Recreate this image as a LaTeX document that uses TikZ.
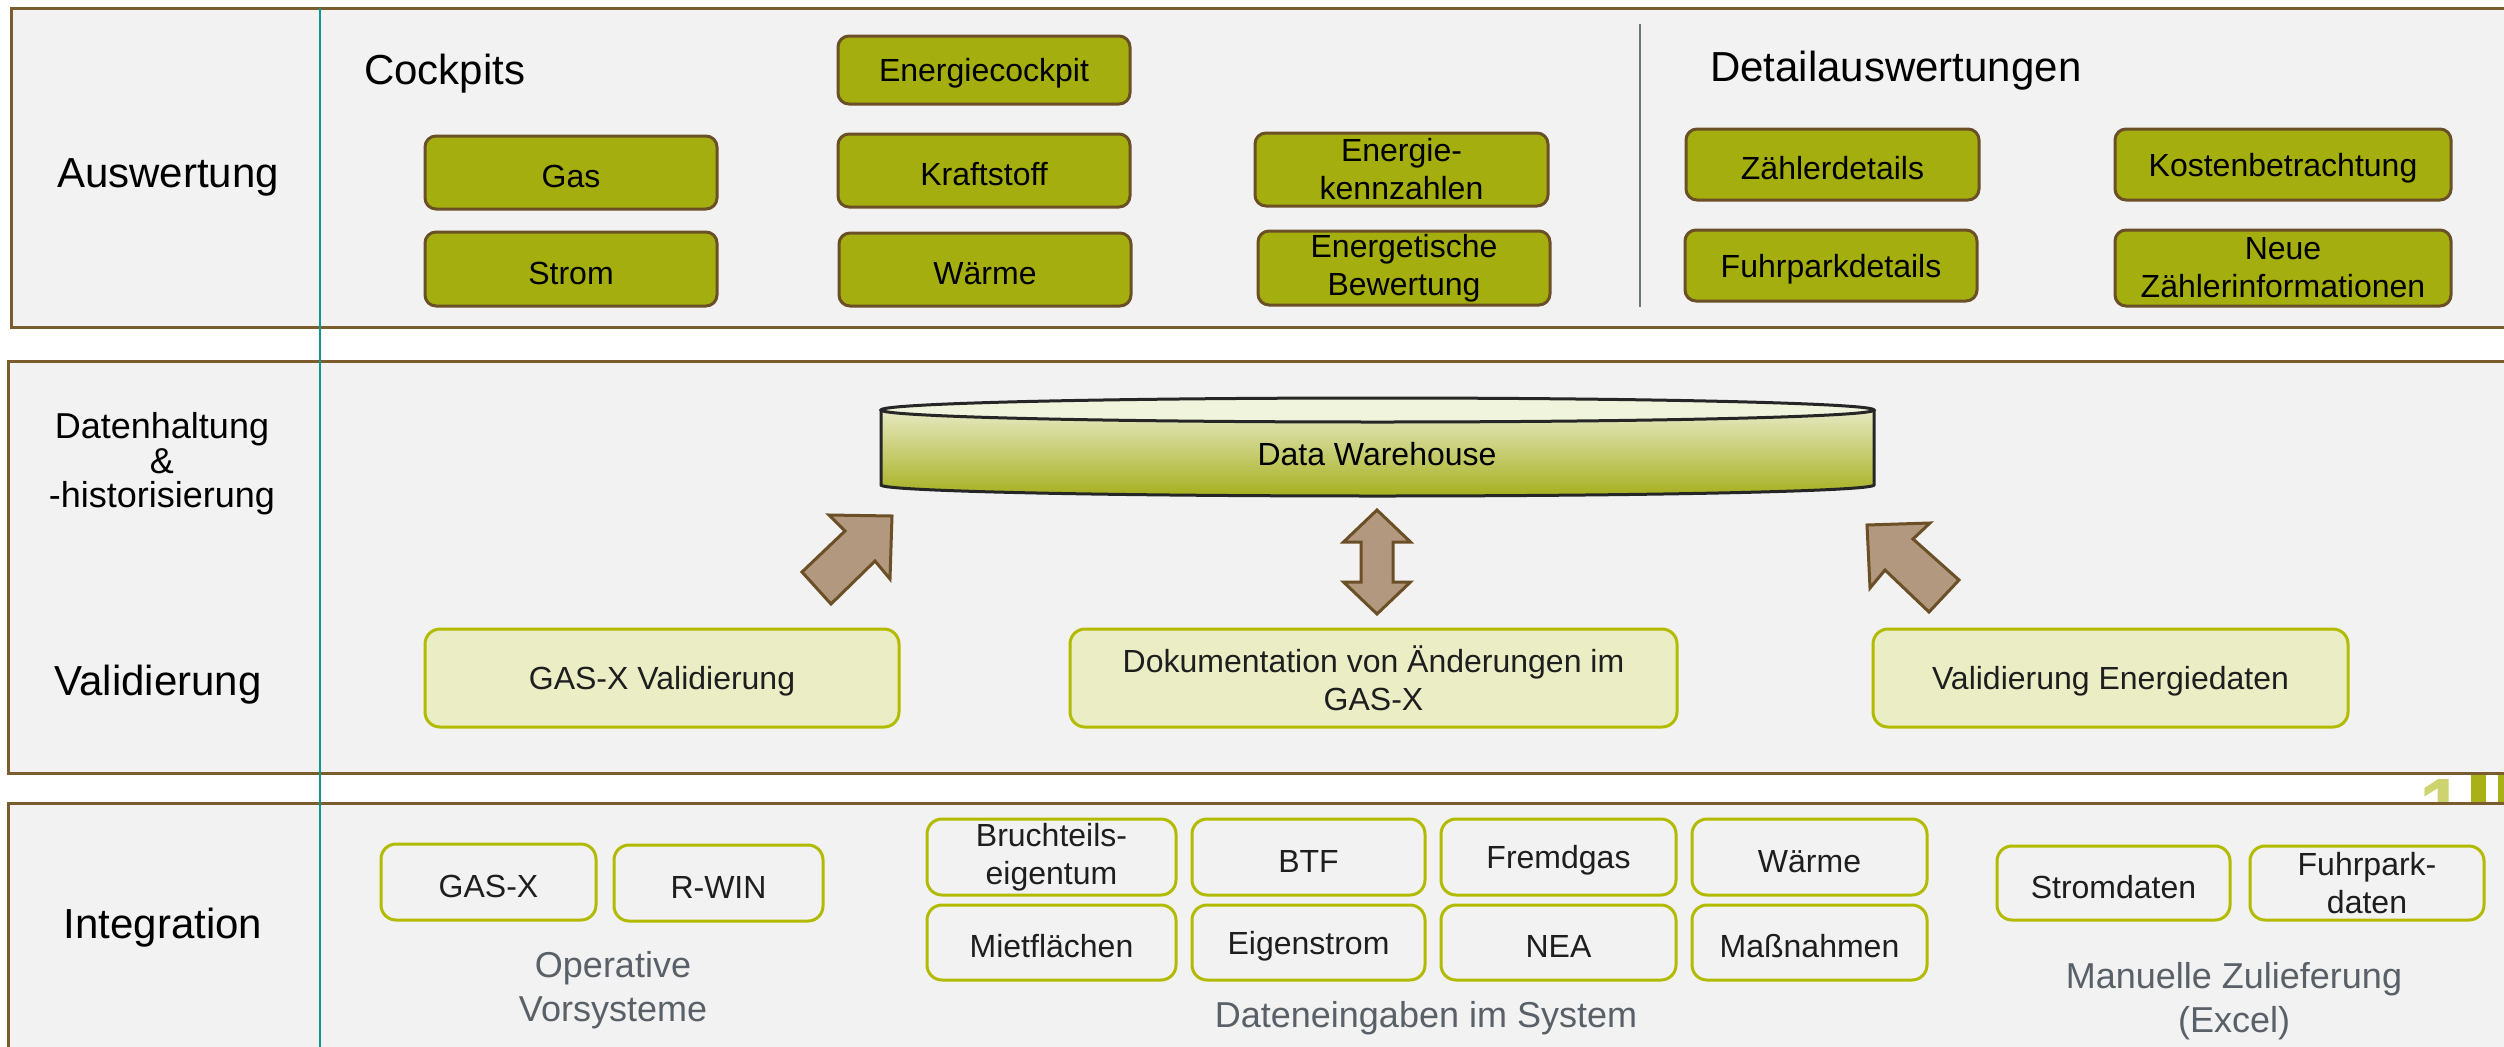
\documentclass[tikz,border=0pt]{standalone}
\usepackage{fontspec}
\setmainfont{Liberation Sans}
\begin{document}
\begin{tikzpicture}[x=1pt,y=-1pt,
  panel/.style={fill=panelbg,draw=panelbrd,line width=3pt},
  boxtext/.style={align=center,inner sep=2pt,font=\fnode,execute at begin node={\rule{0pt}{0.95em}}},
  darkbox/.style={boxtext,rounded corners=11pt,fill=olivefill,draw=brownbrd,line width=3pt,text=black},
  lightbox/.style={boxtext,rounded corners=15pt,fill=lightfill,draw=olivebrd,line width=3pt,text=txtdark},
  intbox/.style={boxtext,rounded corners=15pt,fill=panelbg,draw=olivebrd,line width=3pt,text=txtdark},
  lanelabel/.style={font=\fbig,text=black,align=center,inner sep=0pt},
  greylabel/.style={font=\fgrey,text=greytxt,align=center,inner sep=0pt},
  blockarrow/.style={fill=arrowfill,draw=brownbrd,line width=3pt,line join=miter}
]
\definecolor{panelbg}{HTML}{F2F2F2}
\definecolor{panelbrd}{HTML}{7B5C2E}
\definecolor{olivefill}{HTML}{A4AE0E}
\definecolor{brownbrd}{HTML}{6B4F26}
\definecolor{lightfill}{HTML}{EBEEC5}
\definecolor{olivebrd}{HTML}{B2BB00}
\definecolor{txtdark}{HTML}{1E1E1E}
\definecolor{greytxt}{HTML}{596068}
\definecolor{arrowfill}{HTML}{B39880}
\definecolor{tealline}{HTML}{13958F}
\definecolor{sepgrey}{HTML}{6F7477}
\definecolor{dwtop}{HTML}{F1F4DC}
\definecolor{dwhi}{HTML}{E6E9C2}
\definecolor{dwlo}{HTML}{A6B01E}
\definecolor{logolight}{HTML}{CDD36E}
\definecolor{logodark}{HTML}{A8B216}
\newcommand\fbig{\fontsize{42}{50}\selectfont}
\newcommand\fmidsize{\fontsize{36}{34.5}\selectfont}
\newcommand\fnode{\fontsize{32}{38}\selectfont}
\newcommand\fgrey{\fontsize{36}{44}\selectfont}

\useasboundingbox (0,0) rectangle (2504,1047);
\clip (0,0) rectangle (2504,1047);
\fill[white] (0,0) rectangle (2504,1047);

% logo fragment behind the panels
\node[anchor=base west,inner sep=0pt,text=logolight,font=\fontsize{80}{80}\selectfont\bfseries] (logoone) at (2419,834) {1};
\fill[logodark] (2471,760) rectangle (2486,815);
\fill[logodark] (2498,760) rectangle (2510,815);

% panels
\path[panel] (11,8) rectangle (2530,327);
\path[panel] (8,361) rectangle (2530,773);
\path[panel] (8,803) rectangle (2530,1070);

% lane labels
\node[lanelabel] (lauswertung) at (168,177) {Auswertung};
\node[font=\fmidsize,align=center,inner sep=0pt] (ldaten) at (162,464) {Datenhaltung\\\&\\-historisierung};
\node[lanelabel] (lvalid) at (158,685) {Validierung};
\node[lanelabel] (linteg) at (163,928) {Integration};

% headers
\node[lanelabel,anchor=west] (hcockpits) at (364,74) {Cockpits};
\node[lanelabel,anchor=west] (hdetail) at (1710,71) {Detailauswertungen};
\coordinate (septop) at (1640,24);
\coordinate (sepbot) at (1640,307);
\draw[sepgrey,line width=2pt] (septop) -- (sepbot);

% cockpit boxes
\node[darkbox,minimum width=292pt,minimum height=68pt] (ecock) at (984,70) {Energiecockpit};
\node[darkbox,minimum width=292pt,minimum height=73pt] (gas) at (571,172.5) {Gas};
\node[darkbox,minimum width=292pt,minimum height=74pt] (strom) at (571,269) {Strom};
\node[darkbox,minimum width=292pt,minimum height=73pt] (kraft) at (984,170.5) {Kraftstoff};
\node[darkbox,minimum width=292pt,minimum height=73pt] (waerme) at (985,269.5) {Wärme};
\node[darkbox,minimum width=293pt,minimum height=73pt] (ekenn) at (1401.5,169.5) {Energie-\\kennzahlen};
\node[darkbox,minimum width=292pt,minimum height=74pt] (ebew) at (1404,268) {Energetische\\Bewertung};
\node[darkbox,minimum width=293pt,minimum height=71pt] (zaehl) at (1832.5,164.5) {Zählerdetails};
\node[darkbox,minimum width=292pt,minimum height=71pt] (fuhr) at (1831,265.5) {Fuhrparkdetails};
\node[darkbox,minimum width=336pt,minimum height=71pt] (kosten) at (2283,164.5) {Kostenbetrachtung};
\node[darkbox,minimum width=336pt,minimum height=76pt] (neue) at (2283,268) {Neue\\Zählerinformationen};

% data warehouse cylinder
\path[top color=dwhi,bottom color=dwlo] (881,410) -- (881,485) arc[start angle=180,end angle=0,x radius=496.5,y radius=11] -- (1874,410) -- cycle;
\draw[black!85,line width=3pt] (881,410) -- (881,485) arc[start angle=180,end angle=0,x radius=496.5,y radius=11] -- (1874,410);
\draw[black!85,line width=3pt,fill=dwtop] (1377.5,410) ellipse[x radius=496.5,y radius=12];
\node[font=\fnode,text=black,inner sep=0pt] (dw) at (1377,454) {Data Warehouse};

% validation boxes
\node[lightbox,minimum width=474pt,minimum height=98pt] (gval) at (662,678) {GAS-X Validierung};
\node[lightbox,minimum width=607pt,minimum height=98pt] (doku) at (1373.5,678) {Dokumentation von Änderungen im\\GAS-X};
\node[lightbox,minimum width=475pt,minimum height=98pt] (vale) at (2110.5,678) {Validierung Energiedaten};

% block arrows
\path[blockarrow] (892,516) -- (890,579) -- (875,561) -- (831,604) -- (802,572) -- (845,531) -- (829,515) -- cycle;
\path[blockarrow] (1377,510) -- (1410.5,542) -- (1393,542) -- (1393,582) -- (1410.5,582) -- (1377,614) -- (1343.5,582) -- (1361,582) -- (1361,542) -- (1343.5,542) -- cycle;
\path[blockarrow] (1867,525) -- (1930,523) -- (1913,539) -- (1959,580) -- (1929,612) -- (1885,570) -- (1870,588) -- cycle;

% integration boxes
\node[intbox,minimum width=215pt,minimum height=76pt] (gasx) at (488.5,882) {GAS-X};
\node[intbox,minimum width=209pt,minimum height=76pt] (rwin) at (718.5,883) {R-WIN};
\node[intbox,minimum width=249pt,minimum height=76pt] (bruch) at (1051.5,857) {Bruchteils-\\eigentum};
\node[intbox,minimum width=233pt,minimum height=76pt] (btf) at (1308.5,857) {BTF};
\node[intbox,minimum width=235pt,minimum height=76pt] (fremd) at (1558.5,857) {Fremdgas};
\node[intbox,minimum width=235pt,minimum height=76pt] (waerme2) at (1809.5,857) {Wärme};
\node[intbox,minimum width=249pt,minimum height=75pt] (miet) at (1051.5,942.5) {Mietflächen};
\node[intbox,minimum width=233pt,minimum height=75pt] (eigen) at (1308.5,942.5) {Eigenstrom};
\node[intbox,minimum width=235pt,minimum height=75pt] (nea) at (1558.5,942.5) {NEA};
\node[intbox,minimum width=235pt,minimum height=75pt] (mass) at (1809.5,942.5) {Maßnahmen};
\node[intbox,minimum width=233pt,minimum height=74pt] (strom2) at (2113.5,883) {Stromdaten};
\node[intbox,minimum width=234pt,minimum height=74pt] (fuhr2) at (2367,883) {Fuhrpark-\\daten};

% grey group labels
\node[greylabel] (gop) at (613,990) {Operative\\Vorsysteme};
\node[greylabel] (gdat) at (1426,1018) {Dateneingaben im System};
\node[greylabel] (gman) at (2234,1001) {Manuelle Zulieferung\\(Excel)};

% teal divider
\coordinate (tealtop) at (320,8);
\coordinate (tealbot) at (320,1047);
\draw[tealline,line width=2pt] (tealtop) -- (tealbot);
\end{tikzpicture}
\end{document}
